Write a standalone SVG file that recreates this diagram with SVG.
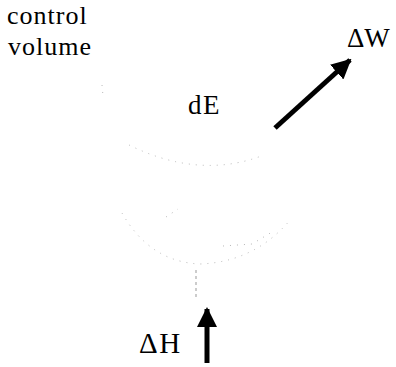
<svg xmlns="http://www.w3.org/2000/svg" width="396" height="367" viewBox="0 0 396 367">
<style>
text{font-family:"Liberation Serif","Times New Roman",serif;fill:#000}
.cv{fill:none;stroke:#b8b8b8;stroke-width:1;stroke-dasharray:1 6}
.ar{stroke:#000;stroke-width:5;fill:none}
</style>
<defs>
<marker id="ah" viewBox="0 0 10 10" refX="9" refY="5" markerWidth="4" markerHeight="4" markerUnits="strokeWidth" orient="auto">
<path d="M0,0 L10,5 L0,10 Z" fill="#000"/>
</marker>
</defs>
<rect width="396" height="367" fill="#fff"/>
<g id="control-volume">
<path class="cv" d="M102,85 L103,96"/>
<path class="cv" d="M129,145 Q200,180 264,155"/>
<path class="cv" d="M122,213 Q150,262 200,264 Q255,262 291,219"/>
<path class="cv" d="M166,217 L178,209"/>
<path class="cv" d="M223,246 L252,244 L272,232"/>
<path class="cv" d="M196,270 L196,300" style="stroke-dasharray:3 3;stroke:#999"/>
</g>
<g id="connectors">
<line class="ar" x1="275" y1="128" x2="350" y2="60" marker-end="url(#ah)"/>
<line class="ar" x1="207" y1="363" x2="207" y2="309" marker-end="url(#ah)"/>
</g>
<g id="label-control-volume">
<text x="7" y="24" font-size="26" letter-spacing="1">control</text>
<text x="8" y="55" font-size="26" letter-spacing="1">volume</text>
</g>
<g id="dE"><text x="188" y="114" font-size="27" letter-spacing="1.5">dE</text></g>
<g id="dW"><text x="347" y="47" font-size="27">ΔW</text></g>
<g id="dH"><text x="139" y="353" font-size="29" letter-spacing="1.5">ΔH</text></g>
</svg>
